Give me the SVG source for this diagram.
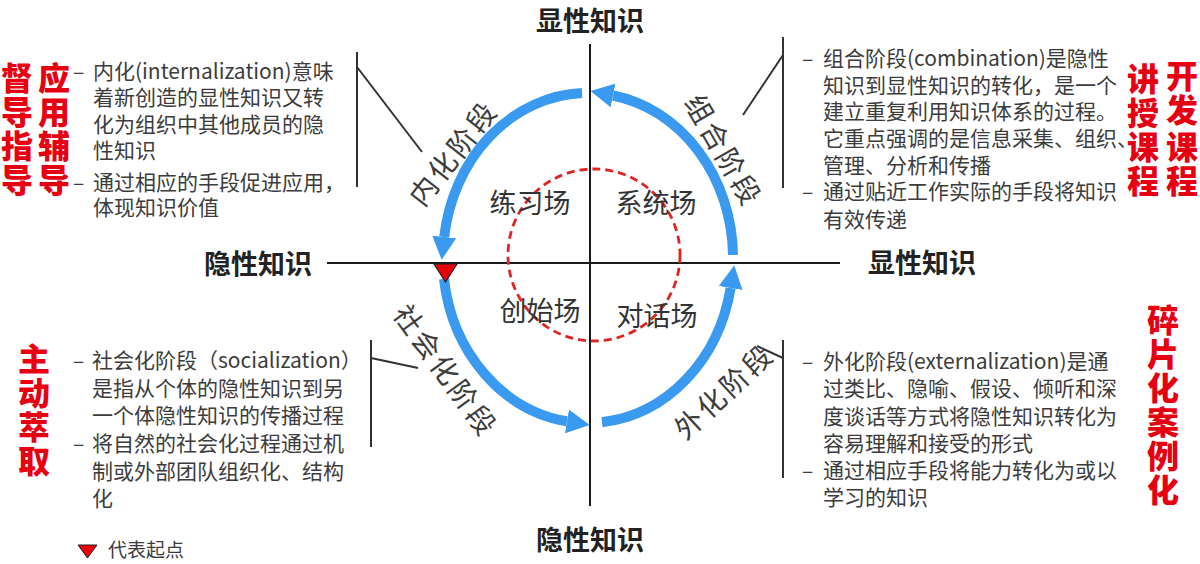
<svg xmlns="http://www.w3.org/2000/svg" width="1200" height="564" viewBox="0 0 1200 564">
<defs>
<style>
.body{font-family:"Noto Sans CJK SC","Noto Sans",sans-serif;font-size:21px;fill:#3c3c3c}
.red{font-family:"Noto Sans CJK SC",sans-serif;font-size:32px;font-weight:900;fill:#e60012;text-anchor:middle}
.axis{font-family:"Noto Sans CJK SC",sans-serif;font-size:27px;font-weight:bold;fill:#222;text-anchor:middle}
.field{font-family:"Noto Sans CJK SC",sans-serif;font-size:27px;fill:#333;text-anchor:middle}
.stage{font-family:"Noto Sans CJK SC",sans-serif;font-size:28px;fill:#3c3c3c;text-anchor:middle;dominant-baseline:central;letter-spacing:3px}
.ax{stroke:#1a1a1a;stroke-width:2;fill:none}
.lead{stroke:#333;stroke-width:2;fill:none}
.arc{stroke:#3a9af0;stroke-width:10;fill:none;marker-end:url(#ah)}
</style>
<marker id="ah" markerUnits="userSpaceOnUse" markerWidth="24" markerHeight="26" refX="0" refY="13" orient="auto">
<path d="M0,1 L23,13 L0,25 z" fill="#3a9af0"/>
</marker>
</defs>
<rect width="1200" height="564" fill="#fff"/>

<g id="axes">
<line class="ax" x1="590" y1="44" x2="590" y2="506"/>
<line class="ax" x1="327" y1="263" x2="840" y2="263"/>
<text class="axis" x="590" y="31">显性知识</text>
<text class="axis" x="590" y="550">隐性知识</text>
<text class="axis" x="258" y="274">隐性知识</text>
<text class="axis" x="922" y="273">显性知识</text>
</g>

<g id="field-circle">
<circle cx="594" cy="255" r="86" fill="none" stroke="#e02424" stroke-width="2.8" stroke-dasharray="8 5"/>
</g>

<g id="fields">
<text class="field" x="530" y="213">练习场</text>
<text class="field" x="656" y="213">系统场</text>
<text class="field" x="540" y="321">创始场</text>
<text class="field" x="657" y="326">对话场</text>
</g>

<g id="connectors">
<path class="arc" d="M733,255 A145 165 0 0 0 613,95.5"/>
<path class="arc" d="M582,93 A145 165 0 0 0 444.2,237"/>
<path class="arc" d="M444,279 A145 165 0 0 0 567,421.3"/>
<path class="arc" d="M602,422.2 A145 165 0 0 0 730.6,288"/>
<polyline class="lead" points="357,52 357,187"/>
<line class="lead" x1="357" y1="67" x2="422" y2="152"/>
<polyline class="lead" points="783,37 783,188"/>
<line class="lead" x1="783" y1="55" x2="743" y2="115"/>
<polyline class="lead" points="371,340 371,447"/>
<line class="lead" x1="371" y1="358" x2="418" y2="368"/>
<polyline class="lead" points="783,340 783,478"/>
<line class="lead" x1="783" y1="358" x2="757" y2="346"/>
</g>

<g id="start-marker">
<polygon points="434,264 457,264 445.5,282" fill="#e8000b" stroke="#222" stroke-width="1.2"/>
</g>

<g id="stage-internalization">
<text class="stage" transform="translate(452,152) rotate(-52)">内化阶段</text>
<text class="body" x="73" y="79">–</text>
<text class="body" x="93" y="79">内化(internalization)意味</text>
<text class="body" x="93" y="105">着新创造的显性知识又转</text>
<text class="body" x="93" y="132">化为组织中其他成员的隐</text>
<text class="body" x="93" y="158">性知识</text>
<text class="body" x="73" y="190">–</text>
<text class="body" x="93" y="190">通过相应的手段促进应用，</text>
<text class="body" x="93" y="215">体现知识价值</text>
<text class="red"><tspan x="17" y="90">督</tspan><tspan x="17" y="124">导</tspan><tspan x="17" y="158">指</tspan><tspan x="17" y="192">导</tspan></text>
<text class="red"><tspan x="54" y="90">应</tspan><tspan x="54" y="124">用</tspan><tspan x="54" y="158">辅</tspan><tspan x="54" y="192">导</tspan></text>
</g>

<g id="stage-combination">
<text class="stage" transform="translate(725,150) rotate(60)">组合阶段</text>
<text class="body" x="802" y="66">–</text>
<text class="body" x="823" y="66">组合阶段(combination)是隐性</text>
<text class="body" x="823" y="93">知识到显性知识的转化，是一个</text>
<text class="body" x="823" y="119">建立重复利用知识体系的过程。</text>
<text class="body" x="823" y="146">它重点强调的是信息采集、组织、</text>
<text class="body" x="823" y="173">管理、分析和传播</text>
<text class="body" x="802" y="199">–</text>
<text class="body" x="823" y="199">通过贴近工作实际的手段将知识</text>
<text class="body" x="823" y="227">有效传递</text>
<text class="red"><tspan x="1143" y="91">讲</tspan><tspan x="1143" y="125">授</tspan><tspan x="1143" y="159">课</tspan><tspan x="1143" y="193">程</tspan></text>
<text class="red"><tspan x="1182" y="88">开</tspan><tspan x="1182" y="122">发</tspan><tspan x="1182" y="159">课</tspan><tspan x="1182" y="193">程</tspan></text>
</g>

<g id="stage-socialization">
<text class="stage" transform="translate(447,370) rotate(54)">社会化阶段</text>
<text class="body" x="73" y="368">–</text>
<text class="body" x="92" y="368">社会化阶段（socialization）</text>
<text class="body" x="92" y="396">是指从个体的隐性知识到另</text>
<text class="body" x="92" y="423">一个体隐性知识的传播过程</text>
<text class="body" x="73" y="451">–</text>
<text class="body" x="92" y="451">将自然的社会化过程通过机</text>
<text class="body" x="92" y="479">制或外部团队组织化、结构</text>
<text class="body" x="92" y="506">化</text>
<text class="red"><tspan x="34" y="371">主</tspan><tspan x="34" y="405">动</tspan><tspan x="34" y="439">萃</tspan><tspan x="34" y="473">取</tspan></text>
</g>

<g id="stage-externalization">
<text class="stage" transform="translate(723,390) rotate(-43)">外化阶段</text>
<text class="body" x="802" y="369">–</text>
<text class="body" x="823" y="369">外化阶段(externalization)是通</text>
<text class="body" x="823" y="396">过类比、隐喻、假设、倾听和深</text>
<text class="body" x="823" y="424">度谈话等方式将隐性知识转化为</text>
<text class="body" x="823" y="451">容易理解和接受的形式</text>
<text class="body" x="802" y="478">–</text>
<text class="body" x="823" y="478">通过相应手段将能力转化为或以</text>
<text class="body" x="823" y="505">学习的知识</text>
<text class="red"><tspan x="1163" y="332">碎</tspan><tspan x="1163" y="366">片</tspan><tspan x="1163" y="400">化</tspan><tspan x="1163" y="434">案</tspan><tspan x="1163" y="468">例</tspan><tspan x="1163" y="502">化</tspan></text>
</g>

<g id="legend">
<polygon points="78,545 97,545 87.5,558" fill="#e8000b" stroke="#222" stroke-width="1"/>
<text class="body" x="108" y="557" style="font-size:19px">代表起点</text>
</g>
</svg>
